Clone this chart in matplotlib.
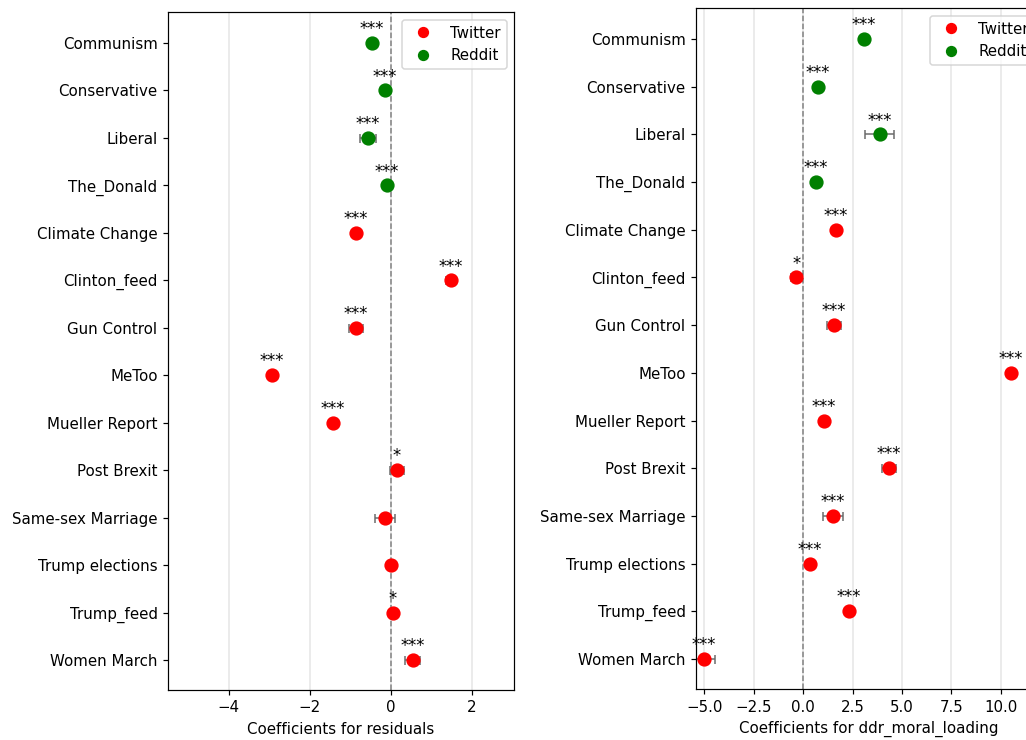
import matplotlib
matplotlib.use("Agg")
import matplotlib.pyplot as plt
from matplotlib.lines import Line2D

# topics top to bottom
topics = ["Communism", "Conservative", "Liberal", "The_Donald", "Climate Change",
          "Clinton_feed", "Gun Control", "MeToo", "Mueller Report", "Post Brexit",
          "Same-sex Marriage", "Trump elections", "Trump_feed", "Women March"]
platform = ["Reddit", "Reddit", "Reddit", "Reddit", "Twitter", "Twitter", "Twitter",
            "Twitter", "Twitter", "Twitter", "Twitter", "Twitter", "Twitter", "Twitter"]

# coefficients for residuals
resid_coef = [-0.47, -0.15, -0.57, -0.10, -0.86, 1.48, -0.86, -2.94, -1.43, 0.15,
              -0.15, 0.00, 0.05, 0.54]
resid_err = [0.04, 0.04, 0.20, 0.04, 0.05, 0.12, 0.18, 0.04, 0.05, 0.18,
             0.25, 0.04, 0.06, 0.18]
resid_sig = ["***", "***", "***", "***", "***", "***", "***", "***", "***", "*",
             "", "", "*", "***"]

# coefficients for ddr_moral_loading
ddr_coef = [3.08, 0.73, 3.88, 0.66, 1.64, -0.34, 1.57, 10.54, 1.05, 4.35,
            1.50, 0.34, 2.32, -5.03]
ddr_err = [0.12, 0.08, 0.74, 0.08, 0.10, 0.27, 0.36, 0.10, 0.10, 0.36,
           0.52, 0.10, 0.22, 0.56]
ddr_sig = ["***", "***", "***", "***", "***", "*", "***", "***", "***", "***",
           "***", "***", "***", "***"]

colors = {"Twitter": "red", "Reddit": "green"}

DPI = 108
fig = plt.figure(figsize=(1026 / DPI, 740 / DPI), dpi=DPI)
ax1 = fig.add_axes([168/1026, 50/740, 346/1026, 678/740])
ax2 = fig.add_axes([696/1026, 51/740, 346/1026, 681/740])


def draw(ax, coef, err, sig, xlabel, xlim):
    ax.set_axisbelow(True)
    ax.grid(axis="x", color="lightgray", alpha=0.6, linewidth=1)
    ax.axvline(0, color="gray", linestyle="--", linewidth=1, zorder=1)
    for i, t in enumerate(topics):
        c = colors[platform[i]]
        ax.errorbar(coef[i], i, xerr=err[i], fmt="none", ecolor="dimgray",
                    capsize=3, elinewidth=1, zorder=2)
        ax.plot(coef[i], i, "o", color=c, markersize=8.5, zorder=3)
        if sig[i]:
            ax.text(coef[i], i - 0.1, sig[i], ha="center", va="bottom", fontsize=11)
    ax.set_yticks(range(len(topics)))
    ax.set_yticklabels(topics)
    ax.set_ylim(len(topics) - 1 + 0.63, -0.65)
    ax.set_xlim(*xlim)
    ax.set_xlabel(xlabel)
    handles = [Line2D([], [], marker="o", linestyle="", color=colors[p], markersize=6.5, label=p)
               for p in ["Twitter", "Reddit"]]
    ax.legend(handles=handles, loc="upper right")


draw(ax1, resid_coef, resid_err, resid_sig, "Coefficients for residuals", (-5.5, 3.04))
draw(ax2, ddr_coef, ddr_err, ddr_sig, "Coefficients for ddr_moral_loading", (-5.43, 12.1))
ax1.set_xticks([-4, -2, 0, 2])
ax2.set_xticks([-5.0, -2.5, 0.0, 2.5, 5.0, 7.5, 10.0])

fig.savefig("out.png", dpi=DPI)
